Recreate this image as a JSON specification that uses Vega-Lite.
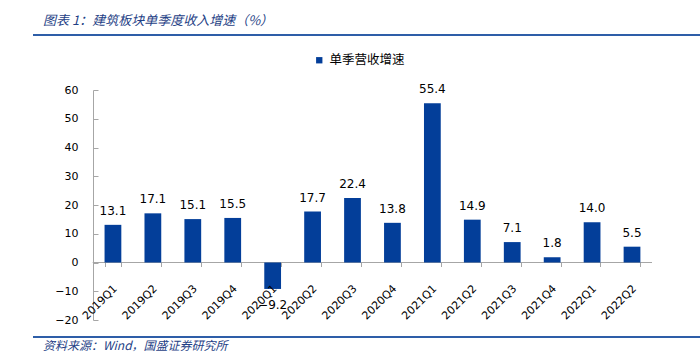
{
  "$schema": "https://vega.github.io/schema/vega-lite/v6.json",
  "padding": {"left": 32, "top": 13, "right": 0, "bottom": 0},
  "spacing": 11,
  "columns": 1,
  "resolve": {"legend": {"color": "independent"}},
  "config": {"font": "DejaVu Sans"},
  "datasets": {
    "growth": [
      {"q": "2019Q1", "v": 13.1},
      {"q": "2019Q2", "v": 17.1},
      {"q": "2019Q3", "v": 15.1},
      {"q": "2019Q4", "v": 15.5},
      {"q": "2020Q1", "v": -9.2},
      {"q": "2020Q2", "v": 17.7},
      {"q": "2020Q3", "v": 22.4},
      {"q": "2020Q4", "v": 13.8},
      {"q": "2021Q1", "v": 55.4},
      {"q": "2021Q2", "v": 14.9},
      {"q": "2021Q3", "v": 7.1},
      {"q": "2021Q4", "v": 1.8},
      {"q": "2022Q1", "v": 14.0},
      {"q": "2022Q2", "v": 5.5}
    ]
  },
  "concat": [
    {
      "width": 668,
      "height": 7,
      "view": {"stroke": "#2E5EA8", "strokeWidth": 2, "strokeDash": [668, 2000]},
      "title": {
        "text": "图表 1：建筑板块单季度收入增速（%）",
        "anchor": "start",
        "orient": "top",
        "dx": 10,
        "offset": 7.5,
        "font": "Noto Sans CJK SC",
        "fontSize": 13,
        "fontStyle": "italic",
        "fontWeight": "normal",
        "color": "#1F3F86"
      },
      "data": {"values": []},
      "mark": {"type": "point", "opacity": 0},
      "encoding": {}
    },
    {
      "width": 615.7,
      "height": 230,
      "view": {"stroke": null},
      "data": {"name": "growth"},
      "encoding": {
        "x": {
          "field": "q",
          "type": "nominal",
          "sort": null,
          "scale": {
            "domain": ["2019Q1", "2019Q2", "2019Q3", "2019Q4", "2020Q1", "2020Q2", "2020Q3", "2020Q4", "2021Q1", "2021Q2", "2021Q3", "2021Q4", "2022Q1", "2022Q2"],
            "paddingInner": 0.58,
            "paddingOuter": 1,
            "align": 0.896
          },
          "axis": {
            "title": null,
            "offset": -57.5,
            "zindex": 1,
            "domain": false,
            "labelAngle": -45,
            "labelAlign": "right",
            "labelBaseline": "top",
            "labelPadding": 16,
            "labelOffset": -2,
            "labelFont": "DejaVu Sans",
            "labelFontSize": 11,
            "labelColor": "#000000",
            "tickBand": "extent",
            "tickSize": 4,
            "tickColor": "#A6A6A6",
            "labelOverlap": false
          }
        },
        "y": {
          "field": "v",
          "type": "quantitative",
          "scale": {"domain": [-20, 60], "nice": false, "zero": false},
          "axis": {
            "title": null,
            "offset": -60,
            "values": [-20, -10, 0, 10, 20, 30, 40, 50, 60],
            "grid": false,
            "tickSize": -5,
            "labelPadding": 20,
            "tickColor": "#A6A6A6",
            "domainColor": "#A6A6A6",
            "labelFont": "DejaVu Sans",
            "labelFontSize": 11,
            "labelColor": "#000000"
          }
        }
      },
      "layer": [
        {
          "mark": {"type": "rule", "color": "#A6A6A6", "strokeWidth": 1},
          "encoding": {
            "x": {"datum": "2019Q1", "bandPosition": -0.69},
            "x2": {"datum": "2022Q2", "bandPosition": 1.69},
            "y": {"datum": 0}
          }
        },
        {
          "mark": {"type": "bar"},
          "encoding": {
            "color": {
              "datum": "单季营收增速",
              "type": "nominal",
              "scale": {"range": ["#033E99"]},
              "legend": {
                "orient": "none",
                "legendX": 280,
                "legendY": -36,
                "title": null,
                "symbolType": "square",
                "symbolSize": 40,
                "symbolStrokeWidth": 0,
                "labelFont": "Noto Sans CJK SC",
                "labelFontSize": 12.5,
                "labelColor": "#000000",
                "labelOffset": 4,
                "padding": 0
              }
            }
          }
        },
        {
          "transform": [{"filter": "datum.v >= 0"}],
          "mark": {"type": "text", "baseline": "alphabetic", "dy": -10, "fontSize": 12, "font": "DejaVu Sans", "color": "#000000"},
          "encoding": {"text": {"field": "v", "type": "quantitative", "format": ".1f"}}
        },
        {
          "transform": [{"filter": "datum.v < 0"}],
          "mark": {"type": "text", "baseline": "alphabetic", "dy": 20, "fontSize": 12, "font": "DejaVu Sans", "color": "#000000"},
          "encoding": {"text": {"field": "v", "type": "quantitative", "format": ".1f"}}
        }
      ]
    },
    {
      "width": 668,
      "height": 2,
      "view": {"stroke": "#2E5EA8", "strokeWidth": 2, "strokeDash": [668, 2000]},
      "title": {
        "text": "资料来源：Wind，国盛证券研究所",
        "anchor": "start",
        "orient": "bottom",
        "dx": 10,
        "offset": 2,
        "font": "Noto Sans CJK SC",
        "fontSize": 12,
        "fontStyle": "italic",
        "fontWeight": "normal",
        "color": "#1F3F86"
      },
      "data": {"values": []},
      "mark": {"type": "point", "opacity": 0},
      "encoding": {}
    }
  ]
}
